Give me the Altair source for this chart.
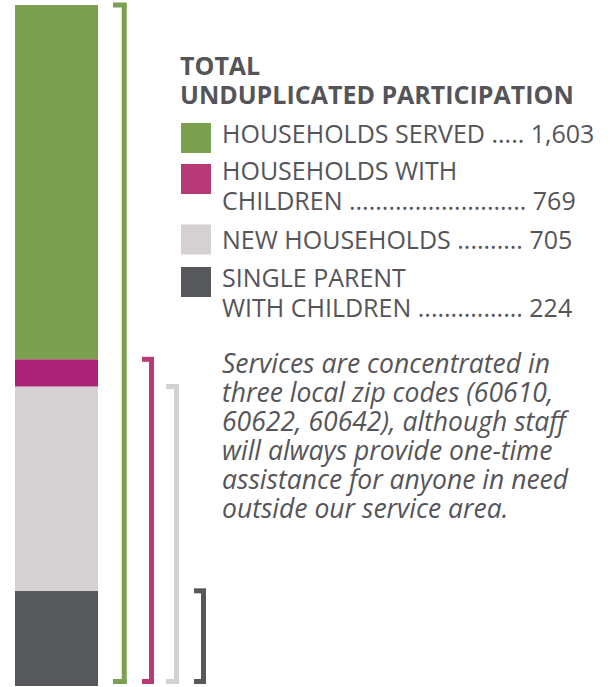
import altair as alt
import pandas as pd

# ---- data ----
names = ["Households served", "Households with children", "New households", "Single parent with children"]
values = [1603, 769, 705, 224]
bar_colors = ["#7BA050", "#AA2378", "#D5D1D2", "#57585C"]
key_colors = ["#7BA050", "#B73A77", "#D5D1D2", "#57585C"]
label_lines = [["HOUSEHOLDS SERVED"], ["HOUSEHOLDS WITH", "CHILDREN"], ["NEW HOUSEHOLDS"],
               ["SINGLE PARENT", "WITH CHILDREN"]]
leader_dots = [5, 27, 10, 16]
title_lines = ["TOTAL", "UNDUPLICATED PARTICIPATION"]
note_lines = ["Services are concentrated in", "three local zip codes (60610,",
              "60622, 60642), although staff", "will always provide one-time",
              "assistance for anyone in need", "outside our service area."]

TEXT = "#555559"
FONT = "Open Sans"

# stacked segments built from nested totals (smallest at bottom)
order = sorted(range(len(values)), key=lambda i: values[i])
rows = []
prev = 0
for i in order:
    rows.append({"name": names[i], "lo": prev, "hi": values[i], "color": bar_colors[i]})
    prev = values[i]
seg_df = pd.DataFrame(rows)

ysc = alt.Scale(domain=[0, max(values)], range=[686, 5])
one = pd.DataFrame({"a": [0]})

layers = []
bar = alt.Chart(seg_df).mark_rect().encode(
    x=alt.value(15), x2=alt.value(98),
    y=alt.Y("lo:Q", scale=ysc, axis=None), y2="hi:Q",
    color=alt.Color("color:N", scale=None),
)
layers.append(bar)

# brackets
bracket_x = [124.2, 151.5, 176.5, 203.5]
bracket_left = [113, 142, 166, 194]
for i, v in enumerate(values):
    bdf = pd.DataFrame({"v": [v], "zero": [0]})
    c = key_colors[i]
    xc = bracket_x[i]
    base = alt.Chart(bdf)
    layers.append(base.mark_rule(strokeWidth=5, color=c, y2Offset=-2).encode(
        x=alt.value(xc), y=alt.Y("v:Q", scale=ysc, axis=None), y2="zero:Q"))
    layers.append(base.mark_rule(strokeWidth=5, color=c).encode(
        x=alt.value(bracket_left[i]), x2=alt.value(xc + 2.5),
        y=alt.Y("v:Q", scale=ysc, axis=None)))
    layers.append(base.mark_rule(strokeWidth=5, color=c, yOffset=-4.5).encode(
        x=alt.value(bracket_left[i]), x2=alt.value(xc + 2.5),
        y=alt.Y("zero:Q", scale=ysc, axis=None)))


def text_line(s, x, y, **kw):
    return alt.Chart(one).mark_text(
        text=s, font=FONT, color=TEXT, align="left", baseline="alphabetic", **kw
    ).encode(x=alt.value(x), y=alt.value(y))


# title
for j, s in enumerate(title_lines):
    layers.append(text_line(s, 180, 75 + 29.3 * j, fontSize=25, fontWeight="bold"))

# legend keys + labels
key_y = [138, 179, 239.5, 282]
label_y = [143, 180, 249, 286.5]
for i in range(len(values)):
    layers.append(alt.Chart(one).mark_square(size=900, color=key_colors[i], opacity=1).encode(
        x=alt.value(196), y=alt.value(key_y[i])))
    lines = list(label_lines[i])
    lines[-1] = lines[-1] + " " + "." * leader_dots[i] + " " + f"{values[i]:,}"
    for j, s in enumerate(lines):
        layers.append(text_line(s, 222, label_y[i] + 30 * j, fontSize=25))

# note
for j, s in enumerate(note_lines):
    layers.append(text_line(s, 222, 373.3 + 29 * j, fontSize=26.5, fontStyle="italic"))

chart = alt.layer(*layers).properties(
    width=613, height=687, padding=0, autosize="none"
).configure_view(stroke=None)

chart.save("out.html", embed_options={"renderer": "svg", "actions": False})
